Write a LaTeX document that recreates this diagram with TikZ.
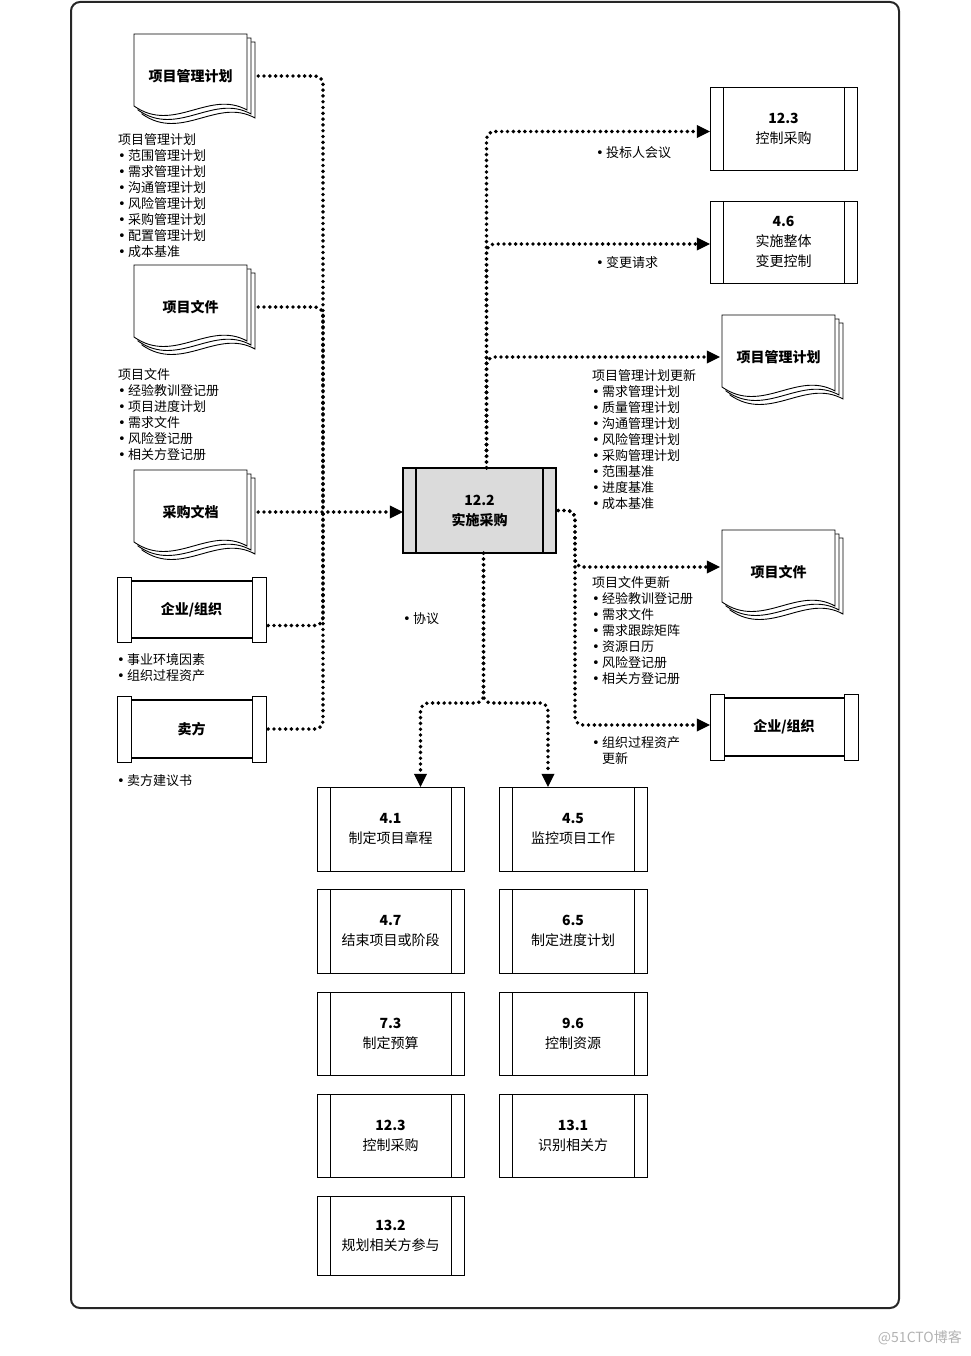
\documentclass[tikz,border=0pt]{standalone}
\usepackage{fontspec}
\setmainfont{Noto Sans CJK SC}
\newfontfamily\symf{DejaVu Sans}
\usetikzlibrary{arrows.meta,calc}
\newcommand\bul{\makebox[10pt][l]{\symf •}}
\newcommand\mydoc[4]{%
 \begin{scope}[shift={(#2,#3)}]
  \foreach \dd in {8,4,0}{
   \draw[docpage] (\dd,\dd) -- (113+\dd,\dd) -- (113+\dd,76+\dd)
     .. controls (75+\dd,55+\dd) and (40+\dd,100+\dd) .. (\dd,72+\dd) -- cycle;
  }
  \node[titlenode, minimum width=122pt, minimum height=84pt] (#1) at (59,42) {\hspace*{-5pt}#4};
 \end{scope}}
\newcommand\procbox[7]{%
 \draw[boxline] (#2,#3) rectangle (#4,#5);
 \draw[boxline, line width=0.8pt] (#2+13,#3) -- (#2+13,#5) (#4-13,#3) -- (#4-13,#5);
 \node[procnode, minimum width=#4pt-#2pt, minimum height=#5pt-#3pt] (#1) at ({(#2+#4)/2},{(#3+#5)/2}) {\textbf{#6}\\#7};}
\newcommand\compbox[6]{%
 \draw[boxline] (#2,#3) rectangle (#2+14,#5) (#4-14,#3) rectangle (#4,#5);
 \draw[line width=1.7pt] (#2+14,#3+4) -- (#4-14,#3+4) (#2+14,#5-4) -- (#4-14,#5-4);
 \node[titlenode, minimum width=#4pt-#2pt, minimum height=#5pt-#3pt] (#1) at ({(#2+#4)/2},{(#3+#5)/2}) {#6};}
\begin{document}
\begin{tikzpicture}[x=1pt,y=-1pt,
 dotline/.style={line width=3.9pt, dash pattern=on 0pt off 5.8pt, line cap=round, rounded corners=8pt},
 dotarrow/.style={dotline, -{Triangle[length=13pt,width=13pt,line width=0.4pt]}},
 docpage/.style={draw=black, fill=white, line width=0.9pt},
 boxline/.style={draw=black, line width=0.9pt},
 titlenode/.style={inner sep=0pt, font=\fontsize{14}{20}\selectfont\bfseries, align=center},
 procnode/.style={inner sep=0pt, font=\fontsize{14}{20}\selectfont, align=center},
 listtxt/.style={inner sep=0pt, anchor=north west, align=left, font=\fontsize{13}{16}\selectfont},
 outerframe/.style={draw=black!85, line width=2pt, rounded corners=9pt}]
\useasboundingbox (0,0) rectangle (970,1356);
\draw[outerframe] (71,2) rectangle (899,1308);

% ---------- left inputs ----------
\mydoc{docA}{134}{34}{项目管理计划}
\mydoc{docB}{134}{265}{项目文件}
\mydoc{docC}{134}{470}{采购文档}
\compbox{compL}{117}{577}{266}{642}{企业/组织}
\compbox{seller}{117}{696}{266}{762}{卖方}

\node[listtxt] (lA) at (118,133) {项目管理计划\\\bul 范围管理计划\\\bul 需求管理计划\\\bul 沟通管理计划\\\bul 风险管理计划\\\bul 采购管理计划\\\bul 配置管理计划\\\bul 成本基准};
\node[listtxt] (lB) at (118,368) {项目文件\\\bul 经验教训登记册\\\bul 项目进度计划\\\bul 需求文件\\\bul 风险登记册\\\bul 相关方登记册};
\node[listtxt] (lC) at (117,653) {\bul 事业环境因素\\\bul 组织过程资产};
\node[listtxt] (lD) at (117,774) {\bul 卖方建议书};

% ---------- center ----------
\fill[black!14] (403,468) rectangle (556,553);
\draw[line width=1.2pt] (403,468) rectangle (556,553) (416,468) -- (416,553) (543,468) -- (543,553);
\node[titlenode, minimum width=153pt, minimum height=85pt] (ctr) at (479.5,510.5) {12.2\\实施采购};

% ---------- right outputs ----------
\procbox{bTop}{710}{87}{857}{170}{12.3}{控制采购}
\procbox{bCC}{710}{201}{857}{283}{4.6}{实施整体\\变更控制}
\mydoc{docD}{722}{315}{项目管理计划}
\mydoc{docE}{722}{530}{项目文件}
\compbox{compR}{710}{694}{858}{760}{企业/组织}

\node[listtxt] (lE) at (596,146) {\bul 投标人会议};
\node[listtxt] (lF) at (596,256) {\bul 变更请求};
\node[listtxt] (lG) at (592,369) {项目管理计划更新\\\bul 需求管理计划\\\bul 质量管理计划\\\bul 沟通管理计划\\\bul 风险管理计划\\\bul 采购管理计划\\\bul 范围基准\\\bul 进度基准\\\bul 成本基准};
\node[listtxt] (lH) at (592,576) {项目文件更新\\\bul 经验教训登记册\\\bul 需求文件\\\bul 需求跟踪矩阵\\\bul 资源日历\\\bul 风险登记册\\\bul 相关方登记册};
\node[listtxt] (lI) at (592,736) {\bul 组织过程资产\\\hspace*{10pt}更新};
\node[listtxt] (lJ) at (403,612) {\bul 协议};

% ---------- bottom processes ----------
\procbox{b41}{317}{787}{464}{871}{4.1}{制定项目章程}
\procbox{b45}{499}{787}{647}{871}{4.5}{监控项目工作}
\procbox{b47}{317}{889}{464}{973}{4.7}{结束项目或阶段}
\procbox{b65}{499}{889}{647}{973}{6.5}{制定进度计划}
\procbox{b73}{317}{992}{464}{1075}{7.3}{制定预算}
\procbox{b96}{499}{992}{647}{1075}{9.6}{控制资源}
\procbox{b123}{317}{1094}{464}{1177}{12.3}{控制采购}
\procbox{b131}{499}{1094}{647}{1177}{13.1}{识别相关方}
\procbox{b132}{317}{1196}{464}{1275}{13.2}{规划相关方参与}

% ---------- connectors ----------
\coordinate (J) at (323,512);
\draw[dotline, shorten <=4pt] (docA.east) -| (J);
\draw[dotline, shorten <=4pt] (docB.east) -| (J);
\draw[dotline, shorten <=2pt] ([yshift=-16pt]compL.east) -| (J);
\draw[dotline, shorten <=2pt] (seller.east) -| (J);
\draw[dotarrow, shorten <=4pt] (docC.east) -- (docC.east -| ctr.west);

\coordinate (T) at ([xshift=7pt]ctr.north);
\draw[dotarrow] (T) |- ([yshift=-3pt]bTop.west);
\draw[dotarrow] (T) |- ([yshift=-2pt]bCC.west);
\draw[dotarrow] (T) |- (docD.west);

\coordinate (R) at (575,540);
\draw[dotarrow, shorten <=2pt] (ctr.east) -| (R) |- ([yshift=5pt]docE.west);
\draw[dotarrow, shorten <=2pt] (ctr.east) -| (R) |- ([yshift=2pt]compR.west);

\coordinate (B) at ([xshift=4pt]ctr.south);
\coordinate (S) at (483.5,703);
\draw[dotarrow] (B) -- (S) -| ([xshift=30pt]b41.north);
\draw[dotarrow] (B) -- (S) -| ([xshift=-25pt]b45.north);

\node[anchor=east, inner sep=0pt, text=black!30, font=\fontsize{14}{14}\selectfont] (wm) at (962,1338) {@51CTO博客};
\end{tikzpicture}
\end{document}
